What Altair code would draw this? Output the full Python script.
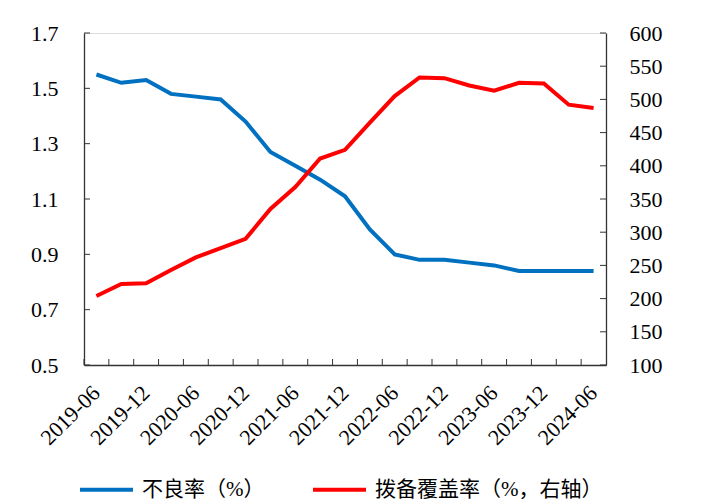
import altair as alt
import pandas as pd

dates = ["2019-06", "2019-09", "2019-12", "2020-03", "2020-06", "2020-09", "2020-12",
         "2021-03", "2021-06", "2021-09", "2021-12", "2022-03", "2022-06", "2022-09",
         "2022-12", "2023-03", "2023-06", "2023-09", "2023-12", "2024-03", "2024-06"]
npl = [1.55, 1.52, 1.53, 1.48, 1.47, 1.46, 1.38, 1.27, 1.22, 1.17, 1.11, 0.99, 0.90, 0.88,
       0.88, 0.87, 0.86, 0.84, 0.84, 0.84, 0.84]
coverage = [204, 222, 223, 243, 262, 276, 290, 335, 368, 411, 424, 465, 505, 533,
            532, 521, 513, 525, 524, 492, 487]
left_ticks = [0.5, 0.7, 0.9, 1.1, 1.3, 1.5, 1.7]
right_ticks = [100, 150, 200, 250, 300, 350, 400, 450, 500, 550, 600]
label_dates = dates[::2]

s_npl = "不良率（%）"
s_cov = "拨备覆盖率（%，右轴）"

W, H = 522, 332
AX = "#333333"
NUM_FONT = "Liberation Serif"
CJK_FONT = "Liberation Serif, Noto Sans CJK SC"

df = pd.DataFrame({"date": dates, "npl": npl, "cov": coverage,
                   "s1": [s_npl] * len(dates), "s2": [s_cov] * len(dates)})

xscale = alt.Scale(type="band", domain=dates, paddingInner=0, paddingOuter=0)
lscale = alt.Scale(domain=[0.5, 1.7], nice=False, zero=False)
rscale = alt.Scale(domain=[100, 600], nice=False, zero=False)
color = alt.Color("series:N",
                  scale=alt.Scale(domain=[s_npl, s_cov], range=["#0070C0", "#FF0000"]),
                  legend=alt.Legend(title=None, orient="none", direction="horizontal",
                                    legendX=-6, legendY=428, symbolType="stroke",
                                    symbolSize=2809, symbolStrokeWidth=4,
                                    labelFont=CJK_FONT, labelFontSize=21, labelColor="#000",
                                    labelLimit=500,
                                    labelOffset=7, columnPadding=40, padding=0))

xaxis = alt.Axis(values=label_dates, labelAngle=-45, labelAlign="right", labelBaseline="middle",
                 labelPadding=24, ticks=False, domainColor=AX, domainWidth=1.3,
                 labelFont=NUM_FONT, labelFontSize=22, labelColor="#000", grid=False,
                 title=None, labelOverlap=False)

base = alt.Chart(df)

def xenc(bp):
    return alt.X("date:N", scale=xscale, axis=xaxis, sort=dates, bandPosition=bp)

blue = base.transform_calculate(series="datum.s1").mark_line(strokeWidth=4).encode(
    x=xenc(0.5),
    y=alt.Y("npl:Q", scale=lscale,
            axis=alt.Axis(values=left_ticks, format=".1f", ticks=False, labelPadding=26,
                          domainColor=AX, domainWidth=1.3, grid=False, title=None,
                          labelFont=NUM_FONT, labelFontSize=22, labelColor="#000")),
    color=color,
)

red = base.transform_calculate(series="datum.s2").mark_line(strokeWidth=4).encode(
    x=xenc(0.5),
    y=alt.Y("cov:Q", scale=rscale,
            axis=alt.Axis(orient="right", values=right_ticks, ticks=False, labelPadding=23,
                          domainColor=AX, domainWidth=1.3, grid=False, title=None,
                          labelFont=NUM_FONT, labelFontSize=22, labelColor="#000")),
    color=color,
)

xticks = base.mark_rule(color=AX, strokeWidth=1).encode(
    x=xenc(0),
    y=alt.value(H), y2=alt.value(H - 6),
)

lt = alt.Chart(pd.DataFrame({"v": left_ticks})).mark_rule(color=AX, strokeWidth=1).encode(
    y=alt.Y("v:Q", scale=lscale, axis=None), x=alt.value(0), x2=alt.value(6))

rt = alt.Chart(pd.DataFrame({"v": right_ticks})).mark_rule(color=AX, strokeWidth=1).encode(
    y=alt.Y("v:Q", scale=rscale, axis=None), x=alt.value(W), x2=alt.value(W - 6))

chart = alt.layer(blue, red, xticks, lt, rt).resolve_scale(y="independent").properties(
    width=W, height=H,
    autosize=alt.AutoSizeParams(type="none"),
    padding={"left": 76, "top": 25, "right": 80, "bottom": 145},
).configure_view(stroke=None).configure(background="white")

chart.save("out.html", embed_options={"renderer": "svg", "actions": False})
